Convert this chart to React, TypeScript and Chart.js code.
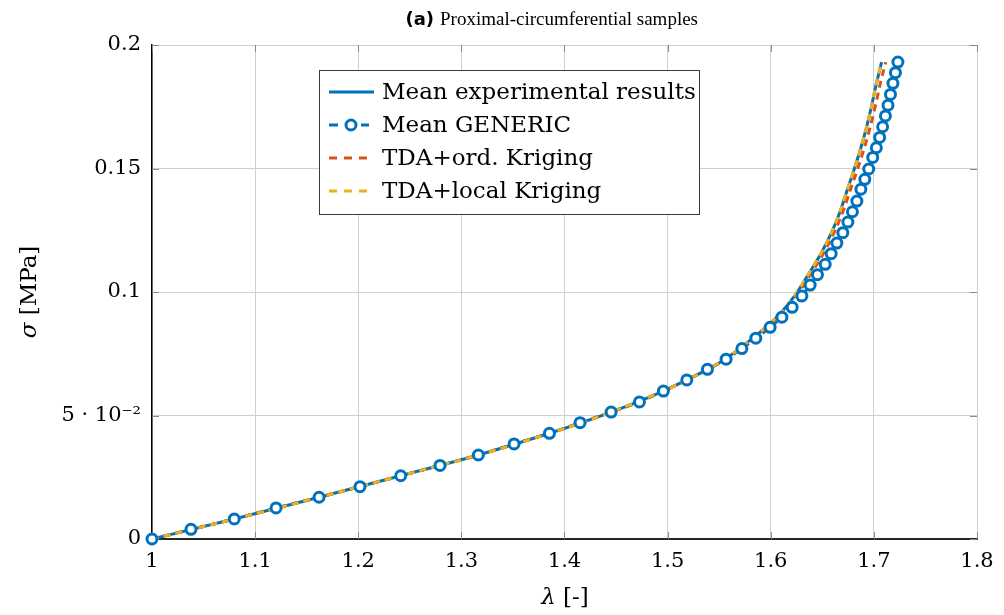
import { useEffect, useRef } from "react";
import { Chart, registerables } from "chart.js";

Chart.register(...registerables);

// ---------- data ----------
const xTickValues = [1, 1.1, 1.2, 1.3, 1.4, 1.5, 1.6, 1.7, 1.8];
const xTickLabels = ["1", "1.1", "1.2", "1.3", "1.4", "1.5", "1.6", "1.7", "1.8"];
const yTickValues = [0, 0.05, 0.1, 0.15, 0.2];
const yTickLabels = ["0", "5 · 10⁻²", "0.1", "0.15", "0.2"];

const legendLabels = [
  "Mean experimental results",
  "Mean GENERIC",
  "TDA+ord. Kriging",
  "TDA+local Kriging",
];
const titleBold = "(a)";
const titleText = "Proximal-circumferential samples";
const xAxisSymbol = "λ";
const xAxisUnit = " [-]";
const yAxisSymbol = "σ";
const yAxisUnit = " [MPa]";

// Mean GENERIC (markers)
const genericLambda = [
  1.0, 1.0378, 1.0798, 1.1203, 1.162, 1.2017, 1.2412, 1.2793, 1.3165, 1.3511,
  1.3854, 1.4151, 1.4452, 1.4727, 1.4959, 1.5186, 1.5386, 1.5567, 1.572, 1.5855,
  1.5994, 1.6108, 1.6208, 1.6302, 1.6382, 1.6453, 1.6528, 1.6586, 1.6641, 1.6699,
  1.6748, 1.6792, 1.6835, 1.6874, 1.6912, 1.695, 1.6989, 1.7024, 1.7056, 1.7085,
  1.7112, 1.7137, 1.7161, 1.7185, 1.7209, 1.7233,
];
const genericSigma = [
  0.0, 0.0039, 0.0081, 0.0126, 0.0169, 0.0212, 0.0256, 0.0298, 0.034, 0.0385,
  0.0428, 0.0471, 0.0514, 0.0555, 0.0599, 0.0644, 0.0687, 0.0728, 0.0771, 0.0813,
  0.0857, 0.0898, 0.0938, 0.0984, 0.1028, 0.107, 0.1112, 0.1155, 0.1198, 0.124,
  0.1283, 0.1325, 0.1368, 0.1416, 0.1456, 0.1498, 0.1545, 0.1584, 0.1626, 0.1669,
  0.1713, 0.1756, 0.18, 0.1845, 0.1888, 0.1931,
];

// Mean experimental results
const expLambda = [
  1.0, 1.0798, 1.162, 1.2412, 1.3165, 1.3854, 1.4452, 1.4959, 1.5186, 1.5386,
  1.5557, 1.5825, 1.6058, 1.6232, 1.6363, 1.6486, 1.6589, 1.6672, 1.6744, 1.681,
  1.6874, 1.693, 1.6979, 1.7025, 1.7075,
];
const expSigma = [
  0.0, 0.0081, 0.0169, 0.0256, 0.034, 0.0428, 0.0514, 0.0599, 0.0644, 0.0687,
  0.0728, 0.0813, 0.0898, 0.0984, 0.107, 0.1155, 0.124, 0.1325, 0.1416, 0.1498,
  0.1584, 0.1669, 0.1756, 0.1845, 0.1931,
];

// TDA + ordinary Kriging
const ordLambda = [
  1.0, 1.0798, 1.162, 1.2412, 1.3165, 1.3854, 1.4452, 1.4959, 1.5186, 1.5386,
  1.5562, 1.5835, 1.6072, 1.625, 1.6383, 1.6509, 1.6614, 1.67, 1.6774, 1.6842,
  1.6908, 1.6965, 1.7016, 1.7063, 1.7115,
];
const ordSigma = [
  0.0, 0.0081, 0.0169, 0.0256, 0.034, 0.0428, 0.0514, 0.0599, 0.0644, 0.0687,
  0.0728, 0.0813, 0.0898, 0.0984, 0.107, 0.1155, 0.124, 0.1325, 0.1416, 0.1498,
  0.1584, 0.1669, 0.1756, 0.1845, 0.1931,
];

// TDA + local Kriging
const localLambda = [
  1.0, 1.0798, 1.162, 1.2412, 1.3165, 1.3854, 1.4452, 1.4959, 1.5186, 1.5386,
  1.5555, 1.5822, 1.6055, 1.623, 1.6362, 1.6485, 1.6588, 1.6671, 1.6743, 1.6809,
  1.6873, 1.6929, 1.6978, 1.7024, 1.7074,
];
const localSigma = [
  0.0, 0.0081, 0.0169, 0.0256, 0.034, 0.0428, 0.0514, 0.0599, 0.0644, 0.0687,
  0.0728, 0.0813, 0.0898, 0.0984, 0.107, 0.1155, 0.124, 0.1325, 0.1416, 0.1498,
  0.1584, 0.1669, 0.1756, 0.1845, 0.1931,
];

// ---------- styles ----------
const BLUE = "#0072BD";
const ORANGE = "#D95319";
const YELLOW = "#EDB120";
const SERIF = "'DejaVu Serif', serif";
const TITLE_SERIF = "'Liberation Serif', serif";

const toPts = (xs: number[], ys: number[]) => xs.map((x, i) => ({ x, y: ys[i] }));

const decorPlugin = {
  id: "decor",
  beforeDatasetsDraw(chart: any) {
    const { ctx, chartArea: a, scales } = chart;
    ctx.save();
    ctx.strokeStyle = "#8a8a8a";
    ctx.lineWidth = 1;
    const seg = (x1: number, y1: number, x2: number, y2: number) => {
      ctx.beginPath();
      ctx.moveTo(x1, y1);
      ctx.lineTo(x2, y2);
      ctx.stroke();
    };
    xTickValues.forEach((v) => {
      const px = Math.round(scales.x.getPixelForValue(v)) + 0.5;
      seg(px, a.bottom, px, a.bottom - 7);
      seg(px, a.top, px, a.top + 7);
    });
    yTickValues.forEach((v) => {
      const py = Math.round(scales.y.getPixelForValue(v)) + 0.5;
      seg(a.left, py, a.left + 7, py);
      seg(a.right, py, a.right - 7, py);
    });
    ctx.restore();
  },
  afterDraw(chart: any) {
    const { ctx } = chart;
    ctx.save();
    // ----- legend -----
    const bx = 319.5, by = 70.5, bw = 380, bh = 144;
    ctx.fillStyle = "#ffffff";
    ctx.fillRect(bx, by, bw, bh);
    ctx.strokeStyle = "#3a3a3a";
    ctx.lineWidth = 1;
    ctx.strokeRect(bx, by, bw, bh);
    const rows = [92, 125, 158, 191];
    const sx1 = 329, sx2 = 374;
    ctx.lineWidth = 3;
    // row 0 solid
    ctx.strokeStyle = BLUE;
    ctx.setLineDash([]);
    ctx.beginPath();
    ctx.moveTo(sx1, rows[0]);
    ctx.lineTo(sx2, rows[0]);
    ctx.stroke();
    // row 1 dashed + marker
    ctx.beginPath();
    ctx.moveTo(sx1, rows[1]);
    ctx.lineTo(sx1 + 9, rows[1]);
    ctx.moveTo(sx2 - 13, rows[1]);
    ctx.lineTo(sx2 - 5, rows[1]);
    ctx.stroke();
    ctx.beginPath();
    ctx.arc(351, rows[1], 5, 0, Math.PI * 2);
    ctx.fillStyle = "#ffffff";
    ctx.fill();
    ctx.stroke();
    // row 2, 3 dashed
    ctx.setLineDash([8, 7]);
    ctx.strokeStyle = ORANGE;
    ctx.beginPath();
    ctx.moveTo(sx1, rows[2]);
    ctx.lineTo(sx2 - 6, rows[2]);
    ctx.stroke();
    ctx.strokeStyle = YELLOW;
    ctx.beginPath();
    ctx.moveTo(sx1, rows[3]);
    ctx.lineTo(sx2 - 6, rows[3]);
    ctx.stroke();
    ctx.setLineDash([]);
    ctx.fillStyle = "#000";
    ctx.font = `23px ${SERIF}`;
    ctx.textBaseline = "middle";
    ctx.textAlign = "left";
    legendLabels.forEach((t, i) => ctx.fillText(t, 382, rows[i] + 1));

    // ----- title -----
    ctx.textBaseline = "alphabetic";
    ctx.font = `bold 18px 'DejaVu Sans', sans-serif`;
    ctx.textAlign = "right";
    ctx.fillText(titleBold, 434, 25);
    ctx.font = `19px ${TITLE_SERIF}`;
    ctx.textAlign = "left";
    ctx.fillText(titleText, 440, 25);

    // ----- axis titles -----
    ctx.font = `italic 23px ${SERIF}`;
    const xsW = ctx.measureText(xAxisSymbol).width;
    ctx.font = `23px ${SERIF}`;
    const xuW = ctx.measureText(xAxisUnit).width;
    let x0 = 565 - (xsW + xuW) / 2;
    ctx.textBaseline = "middle";
    ctx.font = `italic 23px ${SERIF}`;
    ctx.fillText(xAxisSymbol, x0, 598);
    ctx.font = `23px ${SERIF}`;
    ctx.fillText(xAxisUnit, x0 + xsW, 598);

    ctx.save();
    ctx.translate(30, 292);
    ctx.rotate(-Math.PI / 2);
    ctx.font = `italic 23px ${SERIF}`;
    const ysW = ctx.measureText(yAxisSymbol).width;
    ctx.font = `23px ${SERIF}`;
    const yuW = ctx.measureText(yAxisUnit).width;
    x0 = -(ysW + yuW) / 2;
    ctx.font = `italic 23px ${SERIF}`;
    ctx.fillText(yAxisSymbol, x0, 0);
    ctx.font = `23px ${SERIF}`;
    ctx.fillText(yAxisUnit, x0 + ysW, 0);
    ctx.restore();

    ctx.restore();
  },
};

export default function App() {
  const canvasRef = useRef<HTMLCanvasElement | null>(null);

  useEffect(() => {
    document.body.style.margin = "0";
    const canvas = canvasRef.current;
    if (!canvas) return;
    const chart = new Chart(canvas, {
      type: "line",
      data: {
        datasets: [
          {
            label: legendLabels[1] + " markers",
            data: toPts(genericLambda, genericSigma),
            showLine: false,
            pointRadius: 5,
            pointBorderWidth: 3,
            pointBorderColor: BLUE,
            pointBackgroundColor: "#ffffff",
            order: 1,
            clip: false as any,
          },
          {
            label: legendLabels[3],
            data: toPts(localLambda, localSigma),
            borderColor: YELLOW,
            borderWidth: 3,
            borderDash: [7, 5],
            pointRadius: 0,
            cubicInterpolationMode: "monotone",
            fill: false,
            order: 2,
          },
          {
            label: legendLabels[2],
            data: toPts(ordLambda, ordSigma),
            borderColor: ORANGE,
            borderWidth: 3,
            borderDash: [7, 5],
            pointRadius: 0,
            cubicInterpolationMode: "monotone",
            fill: false,
            order: 3,
          },
          {
            label: legendLabels[1],
            data: toPts(genericLambda, genericSigma),
            borderColor: BLUE,
            borderWidth: 3,
            borderDash: [7, 5],
            pointRadius: 0,
            cubicInterpolationMode: "monotone",
            fill: false,
            order: 4,
          },
          {
            label: legendLabels[0],
            data: toPts(expLambda, expSigma),
            borderColor: BLUE,
            borderWidth: 3,
            pointRadius: 0,
            cubicInterpolationMode: "monotone",
            fill: false,
            order: 5,
          },
        ],
      },
      options: {
        responsive: false,
        animation: false,
        devicePixelRatio: 1,
        layout: { padding: { left: 0, right: 27, top: 45, bottom: 0 } },
        plugins: {
          legend: { display: false },
          title: { display: false },
          tooltip: { enabled: false },
        },
        events: [],
        scales: {
          x: {
            type: "linear",
            min: 1,
            max: 1.8,
            afterBuildTicks: (s: any) => {
              s.ticks = xTickValues.map((v) => ({ value: v }));
            },
            afterFit: (s: any) => {
              s.height = 76;
            },
            ticks: {
              callback: (_v: any, i: number) => xTickLabels[i],
              font: { family: SERIF, size: 21 },
              color: "#000",
              padding: 10,
              maxRotation: 0,
            },
            grid: { color: "#cfcfcf", lineWidth: 1, drawTicks: false },
            border: { display: true, color: "#262626", width: 2 },
          },
          y: {
            type: "linear",
            min: 0,
            max: 0.2,
            afterBuildTicks: (s: any) => {
              s.ticks = yTickValues.map((v) => ({ value: v }));
            },
            afterFit: (s: any) => {
              s.width = 152;
            },
            ticks: {
              callback: (_v: any, i: number) => yTickLabels[i],
              font: { family: SERIF, size: 21 },
              color: "#000",
              padding: 11,
            },
            grid: { color: "#cfcfcf", lineWidth: 1, drawTicks: false },
            border: { display: true, color: "#000", width: 1.5 },
          },
        },
      },
      plugins: [decorPlugin],
    });
    return () => chart.destroy();
  }, []);

  return (
    <div style={{ position: "fixed", left: 0, top: 0, width: 1004, height: 615, background: "#fff" }}>
      <canvas ref={canvasRef} width={1004} height={615} style={{ display: "block" }} />
    </div>
  );
}
